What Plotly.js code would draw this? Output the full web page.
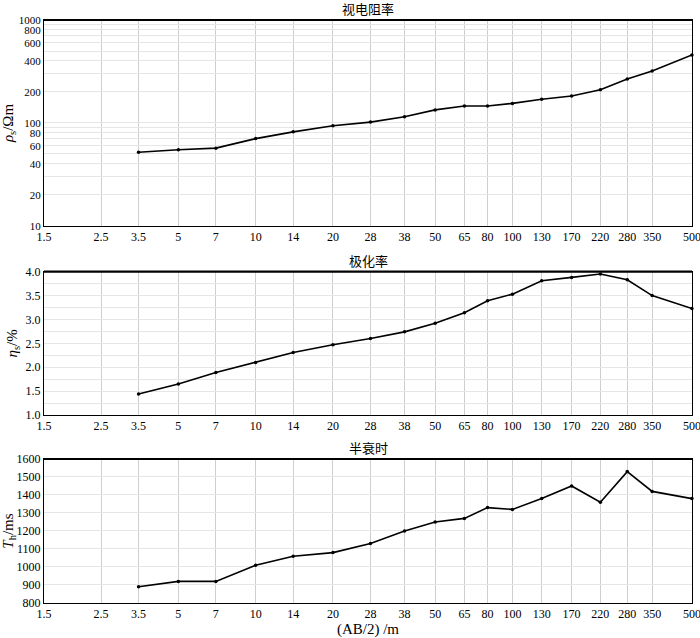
<!DOCTYPE html>
<html><head><meta charset="utf-8">
<script src="https://cdn.plot.ly/plotly-3.0.1.min.js"></script>
<style>body{margin:0;padding:0;background:#fff}#chart{width:700px;height:638px}</style>
</head><body><div id="chart"></div>
<script>
const abHalf = [3.5, 5, 7, 10, 14, 20, 28, 38, 50, 65, 80, 100, 130, 170, 220, 280, 350, 500];
const resistivity = [52, 55, 57, 70.5, 82, 94, 102, 115, 134, 146, 146, 155, 170, 183, 210, 267, 320, 457];
const polarization = [1.44, 1.65, 1.89, 2.10, 2.31, 2.47, 2.60, 2.74, 2.92, 3.14, 3.39, 3.53, 3.81, 3.88, 3.95, 3.83, 3.50, 3.23];
const halfDecay = [890, 920, 920, 1010, 1060, 1080, 1130, 1200, 1250, 1270, 1330, 1320, 1380, 1450, 1360, 1530, 1420, 1380];
const xTicks = [1.5, 2.5, 3.5, 5, 7, 10, 14, 20, 28, 38, 50, 65, 80, 100, 130, 170, 220, 280, 350, 500];
const panelTitles = ['视电阻率', '极化率', '半衰时'];
const rhoGrid = [10,20,30,40,50,60,70,80,90,100,200,300,400,500,600,700,800,900,1000];
const rhoLabels = [10,20,40,60,80,100,200,400,600,800,1000];
const etaGrid = [1.0,1.25,1.5,1.75,2.0,2.25,2.5,2.75,3.0,3.25,3.5,3.75,4.0];
const thTicks = [800,900,1000,1100,1200,1300,1400,1500,1600];

const serif = 'Liberation Serif';
const cjk = 'Noto Sans CJK SC';
const line = {color:'#000', width:1.6};
const mk = {color:'#000', size:3.5};

const traces = [
  {x:abHalf, y:resistivity, xaxis:'x', yaxis:'y', mode:'lines+markers', line, marker:mk, cliponaxis:false},
  {x:abHalf, y:polarization, xaxis:'x2', yaxis:'y2', mode:'lines+markers', line, marker:mk, cliponaxis:false},
  {x:abHalf, y:halfDecay, xaxis:'x3', yaxis:'y3', mode:'lines+markers', line, marker:mk, cliponaxis:false}
];

const xr = [Math.log10(1.5) - 0.0003, Math.log10(500) + 0.0003];
function xa(anchor){
  return {type:'log', range:xr, anchor, tickmode:'array', tickvals:xTicks, ticktext:xTicks.map(String),
    ticklabeloverflow:'allow',
    showgrid:true, gridcolor:'#cfcfcf', gridwidth:1, showline:true, linecolor:'#000', linewidth:1, mirror:true,
    ticks:'', tickfont:{family:serif, size:12, color:'#000'}, zeroline:false, fixedrange:true};
}
function ya(domain, extra){
  return Object.assign({domain, showgrid:true, gridcolor:'#e6e6e6', gridwidth:1, showline:true, linecolor:'#000', linewidth:1,
    mirror:true, ticks:'', ticklabeloverflow:'allow', tickfont:{family:serif, size:12, color:'#000'}, zeroline:false, fixedrange:true}, extra);
}

const d1=[0.6467,1], d2=[0.3225,0.5683], d3=[0,0.247];
const layout = {
  width:700, height:638,
  margin:{l:44, r:8, t:20, b:35},
  paper_bgcolor:'#fff', plot_bgcolor:'#fff',
  showlegend:false,
  xaxis: xa('y'),
  xaxis2: xa('y2'),
  xaxis3: Object.assign(xa('y3'), {title:{text:'(AB/2) /m', font:{family:serif, size:15, color:'#000'}, standoff:6}}),
  yaxis: ya(d1, {type:'log', range:[1,3], tickmode:'array', tickvals:rhoGrid,
    ticktext:rhoGrid.map(v=>rhoLabels.includes(v)?String(v):''),
    tickfont:{family:serif, size:11, color:'#000'},
    title:{text:'<i>ρ</i><sub>s</sub>/Ωm', font:{family:serif, size:15, color:'#000'}, standoff:4}}),
  yaxis2: ya(d2, {range:[1,4], tickmode:'array', tickvals:etaGrid,
    ticktext:etaGrid.map(v=>(v*2)%1===0?v.toFixed(1):''),
    title:{text:'<i>η</i><sub>s</sub>/%', font:{family:serif, size:15, color:'#000'}, standoff:4}}),
  yaxis3: ya(d3, {range:[800,1600], tickmode:'array', tickvals:thTicks, ticktext:thTicks.map(String),
    title:{text:'<i>T</i><sub>h</sub>/ms', font:{family:serif, size:15, color:'#000'}, standoff:4}}),
  annotations: [
    {text:panelTitles[0], xref:'paper', yref:'paper', x:0.5, y:d1[1], yanchor:'bottom', yshift:0, showarrow:false, font:{family:cjk, size:13, color:'#000'}},
    {text:panelTitles[1], xref:'paper', yref:'paper', x:0.5, y:d2[1], yanchor:'bottom', yshift:0, showarrow:false, font:{family:cjk, size:13, color:'#000'}},
    {text:panelTitles[2], xref:'paper', yref:'paper', x:0.5, y:d3[1], yanchor:'bottom', yshift:0, showarrow:false, font:{family:cjk, size:13, color:'#000'}}
  ],
  shapes: [d1,d2,d3].map(d=>({type:'line', xref:'paper', yref:'paper', x0:0, x1:1, y0:d[1], y1:d[1], line:{color:'#000', width:2.2}}))
};
Plotly.newPlot('chart', traces, layout, {staticPlot:true, displayModeBar:false});
</script></body></html>
